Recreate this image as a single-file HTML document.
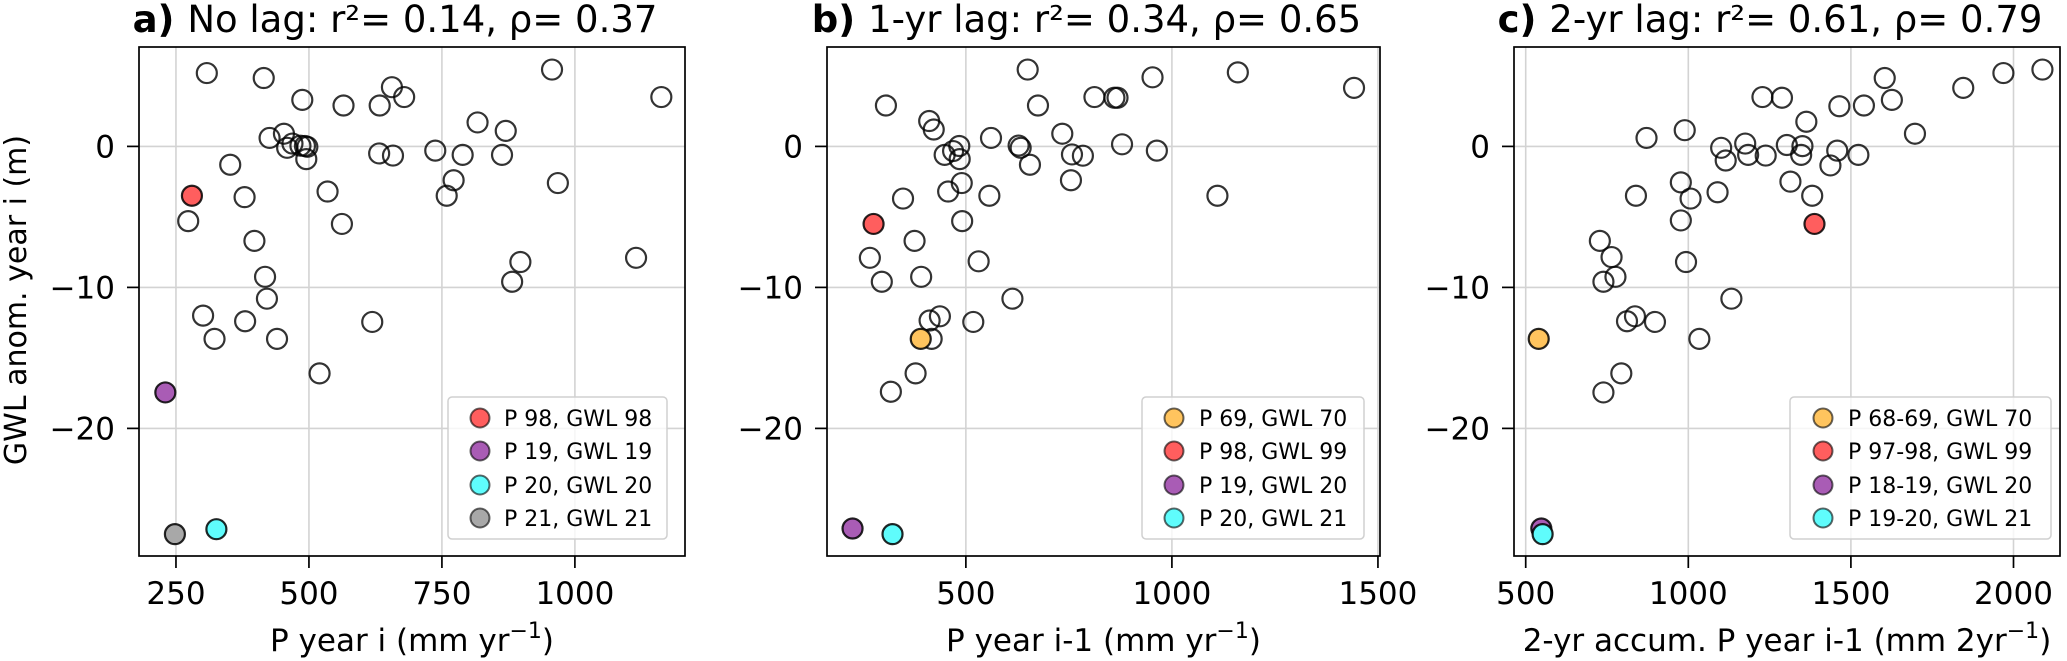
<!DOCTYPE html>
<html><head><meta charset="utf-8"><style>
html,body{margin:0;padding:0;background:#fff;}
svg{display:block;font-family:"DejaVu Sans","Liberation Sans",sans-serif;}
</style></head><body>
<svg id="chart" width="2067" height="661" viewBox="0 0 2067 661" xmlns="http://www.w3.org/2000/svg"></svg>
<script>
// Panel a data
const aX = [308,415,487.5,565,633,656,679,957,1162.5,817,870,426,453,459,469,484,492.5,497,495,632,658,737.5,789,863,352,772,759,968,379,535,273,562,397.5,417.5,421,897.5,882,1115,301,380,619,322.5,440,520];
const aY = [5.2,4.85,3.3,2.9,2.9,4.2,3.5,5.45,3.5,1.7,1.1,0.6,0.9,-0.1,0.2,0.05,0.03,-0.03,-0.9,-0.5,-0.65,-0.3,-0.6,-0.6,-1.3,-2.4,-3.5,-2.6,-3.6,-3.2,-5.3,-5.5,-6.7,-9.25,-10.8,-8.2,-9.6,-7.9,-12,-12.4,-12.45,-13.65,-13.65,-16.1];
const aHiLabels = ["P 98, GWL 98","P 19, GWL 19","P 20, GWL 20","P 21, GWL 21"];
const aHiX = [280,230,326,248];
const aHiY = [-3.5,-17.45,-27.15,-27.5];
const aHiColors = ["#ff5e5e","#a95cb5","#5ffcfc","#a8a8a8"];
// Panel b data
const bX = [650,953,1160,1442,306,675,812,860.5,868,411,422,561,734,879,963.5,484,469,448.5,485,628,633,655.5,757.5,784,755,490,457,347.5,557,1110.5,491,375.5,267,296,391.5,531,613,437,412,518,417,378,318];
const bY = [5.45,4.9,5.25,4.15,2.9,2.9,3.5,3.45,3.45,1.8,1.2,0.6,0.9,0.15,-0.3,0.03,-0.33,-0.6,-0.9,0.06,-0.1,-1.3,-0.57,-0.66,-2.4,-2.6,-3.2,-3.7,-3.5,-3.5,-5.3,-6.7,-7.9,-9.6,-9.25,-8.15,-10.8,-12.05,-12.35,-12.45,-13.65,-16.1,-17.4];
const bHiLabels = ["P 69, GWL 70","P 98, GWL 99","P 19, GWL 20","P 20, GWL 21"];
const bHiX = [390.5,276,225,322];
const bHiY = [-13.65,-5.5,-27.1,-27.5];
const bHiColors = ["#ffc45e","#ff5e5e","#a95cb5","#5ffcfc"];
// Panel c data
const cX = [2089,1969,1845.5,1604,1626,1464.5,1540,1228,1288,1363,1697,871.5,989,1101,1175,1115,1184,1238,1303,1351,1347,1458,1523,1437,1314,1381,1090,977,1007,839,977,993,728,764,776,739,1132.5,836,811.5,897.5,1034,794,739];
const cY = [5.45,5.2,4.15,4.85,3.3,2.85,2.9,3.5,3.45,1.75,0.9,0.6,1.15,-0.1,0.2,-1.0,-0.6,-0.65,0.1,0.02,-0.6,-0.3,-0.6,-1.35,-2.5,-3.5,-3.25,-2.55,-3.7,-3.5,-5.25,-8.2,-6.7,-7.85,-9.25,-9.6,-10.8,-12.05,-12.4,-12.45,-13.65,-16.1,-17.45];
const cHiLabels = ["P 68-69, GWL 70","P 97-98, GWL 99","P 18-19, GWL 20","P 19-20, GWL 21"];
const cHiX = [540,1388,548,552];
const cHiY = [-13.65,-5.5,-27.1,-27.5];
const cHiColors = ["#ffc45e","#ff5e5e","#a95cb5","#5ffcfc"];
// axis ticks
const aXTicks = [250,500,750,1000];
const bXTicks = [500,1000,1500];
const cXTicks = [500,1000,1500,2000];
const yTicks = [0,-10,-20];

const NS = "http://www.w3.org/2000/svg";
const svg = document.getElementById('chart');
function mk(tag, attrs, parent){
  const e = document.createElementNS(NS, tag);
  for (const k in attrs) e.setAttribute(k, attrs[k]);
  (parent||svg).appendChild(e);
  return e;
}
const Y0 = 7.05, Y1 = -29.05, TOP = 47, BOT = 556;

const panels = [
 {id:'a', left:139, right:685, xmin:180.5, xmax:1207, xs:aX, ys:aY, hx:aHiX, hy:aHiY, hc:aHiColors, hl:aHiLabels, ticks:aXTicks,
  title:'No lag: r²= 0.14, ρ= 0.37', xlabel:'P year i (mm yr', leg:{x:448,w:219,mx:480,tx:504}},
 {id:'b', left:827, right:1380, xmin:163, xmax:1505, xs:bX, ys:bY, hx:bHiX, hy:bHiY, hc:bHiColors, hl:bHiLabels, ticks:bXTicks,
  title:'1-yr lag: r²= 0.34, ρ= 0.65', xlabel:'P year i-1 (mm yr', leg:{x:1142,w:222,mx:1174,tx:1199}},
 {id:'c', left:1514, right:2060, xmin:464, xmax:2143, xs:cX, ys:cY, hx:cHiX, hy:cHiY, hc:cHiColors, hl:cHiLabels, ticks:cXTicks,
  title:'2-yr lag: r²= 0.61, ρ= 0.79', xlabel:'2-yr accum. P year i-1 (mm 2yr', leg:{x:1790,w:261,mx:1823,tx:1848}}
];

panels.forEach(p=>{
  const g = mk('g',{});
  
  
  const sx = v => p.left + (v - p.xmin)/(p.xmax - p.xmin)*(p.right - p.left);
  const sy = v => TOP + (Y0 - v)/(Y0 - Y1)*(BOT - TOP);
  p.ticks.forEach(t=>{
    const x = sx(t);
    if (x > p.left && x < p.right) {
      const l = mk('line',{x1:x,x2:x,y1:TOP,y2:BOT,stroke:'#d3d3d3','stroke-width':1.6},g);
      
      
    }
  });
  yTicks.forEach(t=>{
    const y = sy(t);
    const l = mk('line',{x1:p.left,x2:p.right,y1:y,y2:y,stroke:'#d3d3d3','stroke-width':1.6},g);
    
    
  });
  p.ticks.forEach(t=>{
    const x = sx(t);
    const tk = mk('line',{x1:x,x2:x,y1:BOT,y2:BOT+12,stroke:'#000','stroke-width':1.7},g);
    
    
    const tx = mk('text',{x:x,y:BOT+48,'text-anchor':'middle','font-size':31,fill:'#000'},g);
    tx.textContent = String(t);
    
    
  });
  yTicks.forEach(t=>{
    const y = sy(t);
    const tk = mk('line',{x1:p.left-12,x2:p.left,y1:y,y2:y,stroke:'#000','stroke-width':1.7},g);
    
    
    const tx = mk('text',{x:p.left-24,y:y+11,'text-anchor':'end','font-size':31,fill:'#000'},g);
    tx.textContent = t < 0 ? '\u2212' + Math.abs(t) : String(t);
    
    
  });
  const cp = mk('clipPath',{id:'clip-'+p.id},g);
  mk('rect',{x:p.left,y:TOP,width:p.right-p.left,height:BOT-TOP},cp);
  const pts = mk('g',{'clip-path':'url(#clip-'+p.id+')'},g);
  
  
  p.xs.forEach((v,i)=>{
    const c = mk('circle',{cx:sx(v),cy:sy(p.ys[i]),r:10,fill:'none',stroke:'rgba(0,0,0,0.8)','stroke-width':2.2},pts);
    
    
  });
  p.hx.forEach((v,i)=>{
    const c = mk('circle',{cx:sx(v),cy:sy(p.hy[i]),r:10,fill:p.hc[i],stroke:'rgba(0,0,0,0.85)','stroke-width':2.2},pts);
    
    
  });
  const fr = mk('rect',{x:p.left,y:TOP,width:p.right-p.left,height:BOT-TOP,fill:'none',stroke:'#000','stroke-width':1.7},g);
  
  
  const lg = mk('g',{},g);
  
  
  mk('rect',{x:p.leg.x,y:397,width:p.leg.w,height:142,rx:4,fill:'rgba(255,255,255,0.8)',stroke:'#d0d0d0','stroke-width':1.5},lg);
  const rows = [418,451,485,518];
  p.hl.forEach((lab,i)=>{
    const e = mk('g',{},lg);
    
    
    mk('circle',{cx:p.leg.mx,cy:rows[i],r:9.5,fill:p.hc[i],stroke:'rgba(0,0,0,0.6)','stroke-width':2},e);
    const t = mk('text',{x:p.leg.tx,y:rows[i]+8,'font-size':22,fill:'#000'},e);
    t.textContent = lab;
  });
  const tt = mk('text',{x:(p.left+p.right)/2 - 17,y:32,'text-anchor':'middle','font-size':37,fill:'#000'},g);
  
  
  const tb = mk('tspan',{'font-weight':'bold'},tt); tb.textContent = p.id + ') ';
  const tr = mk('tspan',{},tt); tr.textContent = p.title;
  const xl = mk('text',{x:(p.left+p.right)/2,y:651,'text-anchor':'middle','font-size':31,fill:'#000'},g);
  
  
  const x1 = mk('tspan',{},xl); x1.textContent = p.xlabel;
  const x2 = mk('tspan',{dy:-13,'font-size':22},xl); x2.textContent = '\u22121';
  const x3 = mk('tspan',{dy:13},xl); x3.textContent = ')';
});
const yl = mk('text',{x:0,y:0,'text-anchor':'middle','font-size':30,fill:'#000',transform:'translate(26,300) rotate(-90)'});


yl.textContent = 'GWL anom. year i (m)';
</script>
</body></html>
